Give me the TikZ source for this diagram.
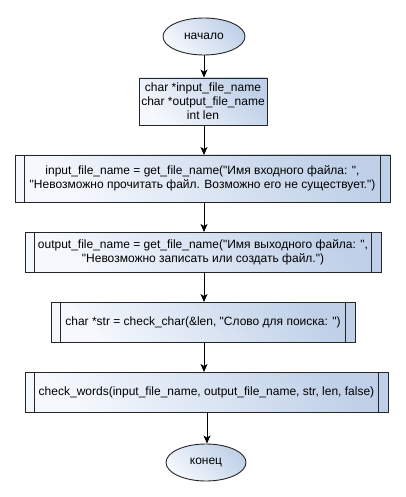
\documentclass[tikz,border=0pt]{standalone}
\usepackage{fontspec}
\setmainfont{Liberation Sans}
\usetikzlibrary{arrows.meta,calc,shapes.geometric}
\definecolor{fillA}{HTML}{F5F8FD}
\definecolor{fillB}{HTML}{BFD0E8}
\tikzset{
  blk/.style={draw=black!85, line width=0.9pt, top color=fillA, bottom color=fillB,
    shading angle=135, rectangle, inner sep=0pt, align=center, font=\fontsize{12}{14}\selectfont},
  term/.style={blk, ellipse},
  conn/.style={line width=0.9pt, -{Stealth[length=8pt,width=7pt,inset=2pt]}},
}
\begin{document}
\begin{tikzpicture}[x=1pt,y=-1pt]
\useasboundingbox (0,0) rectangle (406,497);
\fill[white] (0,0) rectangle (406,497);
\node[term, minimum width=82pt, minimum height=37pt] (start) at (204,36.5) {начало};
\node[blk, minimum width=128pt, minimum height=47pt] (b1) at (203,101.5) {char *input\_file\_name\\char *output\_file\_name\\int len};
\node[blk, minimum width=375pt, minimum height=47pt] (b2) at (202.5,178.5) {input\_file\_name = get\_file\_name(\textquotedbl Имя входного файла: \textquotedbl,\\\textquotedbl Невозможно прочитать файл. Возможно его не существует.\textquotedbl)};
\node[blk, minimum width=356pt, minimum height=40pt] (b3) at (203,252) {output\_file\_name = get\_file\_name(\textquotedbl Имя выходного файла: \textquotedbl,\\\textquotedbl Невозможно записать или создать файл.\textquotedbl)};
\node[blk, minimum width=304pt, minimum height=40pt] (b4) at (203,322) {char *str = check\_char(\&len, \textquotedbl Слово для поиска: \textquotedbl)};
\node[blk, minimum width=363pt, minimum height=40pt] (b5) at (206.5,392) {check\_words(input\_file\_name, output\_file\_name, str, len, false)};
\node[term, minimum width=80pt, minimum height=37pt] (end) at (206,462.5) {конец};
\foreach \n in {b2,b3,b4,b5}{
  \draw[line width=0.9pt, black!85] ($(\n.north west)+(10,0)$) -- ($(\n.south west)+(10,0)$);
  \draw[line width=0.9pt, black!85] ($(\n.north east)+(-10,0)$) -- ($(\n.south east)+(-10,0)$);
}
\draw[conn] (start.south) -- (start.south |- b1.north);
\draw[conn] (204,125) -- (204,155);
\draw[conn] (204,202) -- (204,232);
\draw[conn] (204,272) -- (204,302);
\draw[conn] (204,342) -- (204,372);
\draw[conn] (207,412) -- (end.north -| 207,0);
\end{tikzpicture}
\end{document}
